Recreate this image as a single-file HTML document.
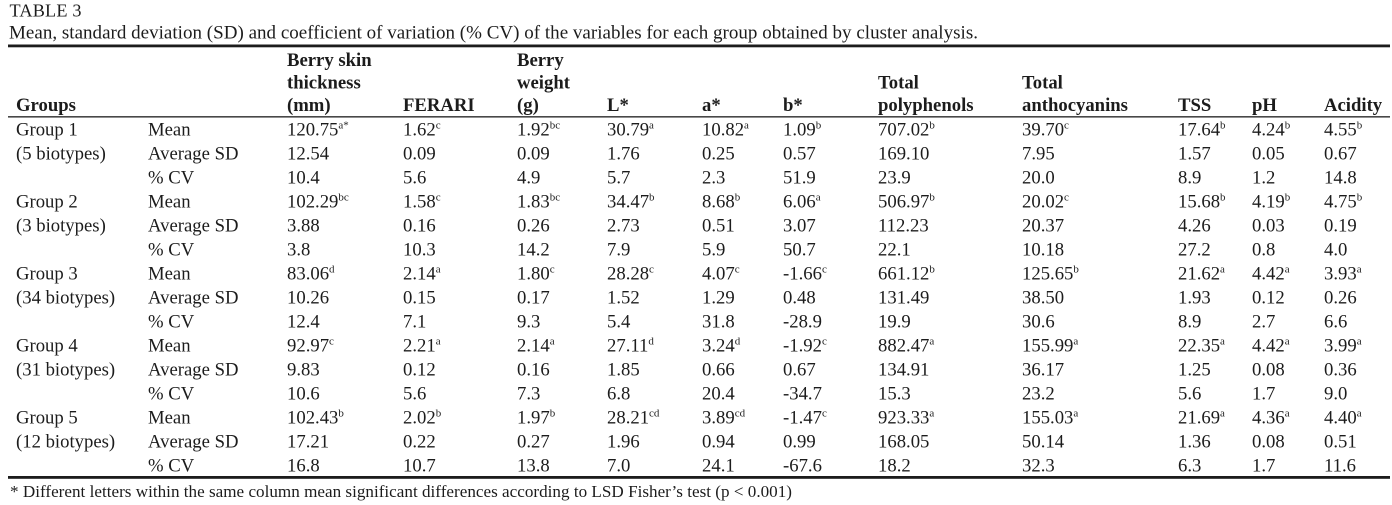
<!DOCTYPE html>
<html>
<head>
<meta charset="utf-8">
<style>
html,body{margin:0;padding:0;background:#fff;}
svg{display:block;}
text{font-family:"Liberation Serif","Times New Roman",serif;fill:#1c1c1c;}
.b{font-size:18.7px;}
.h{font-size:18.7px;font-weight:bold;}
.s{font-size:11px;}
</style>
</head>
<body>
<svg width="1392" height="505" viewBox="0 0 1392 505" xmlns="http://www.w3.org/2000/svg">
<rect width="1392" height="505" fill="#fff"/>
<text x="9.5" y="16.7" style="font-size:18.2px" textLength="72">TABLE 3</text>
<text x="9" y="38.3" style="font-size:19px" textLength="969">Mean, standard deviation (SD) and coefficient of variation (% CV) of the variables for each group obtained by cluster analysis.</text>
<rect x="8" y="44.5" width="1382" height="2.8" fill="#1c1c1c"/>
<!-- header -->
<g class="h">
<text x="287" y="66">Berry skin</text>
<text x="287" y="88.5">thickness</text>
<text x="287" y="111">(mm)</text>
<text x="16" y="111">Groups</text>
<text x="403" y="111">FERARI</text>
<text x="517" y="66">Berry</text>
<text x="517" y="88.5">weight</text>
<text x="517" y="111">(g)</text>
<text x="607" y="111">L*</text>
<text x="702" y="111">a*</text>
<text x="783" y="111">b*</text>
<text x="878" y="88.5">Total</text>
<text x="878" y="111">polyphenols</text>
<text x="1022" y="88.5">Total</text>
<text x="1022" y="111">anthocyanins</text>
<text x="1178" y="111">TSS</text>
<text x="1252" y="111">pH</text>
<text x="1324" y="111">Acidity</text>
</g>
<rect x="8" y="116.2" width="1382" height="1.3" fill="#1c1c1c"/>
<g class="b">
<!-- Group 1 -->
<text x="16" y="135.7">Group 1</text>
<text x="16" y="159.7">(5 biotypes)</text>
<text x="148" y="135.7">Mean</text>
<text x="148" y="159.7">Average SD</text>
<text x="148" y="183.7">% CV</text>
<text x="287" y="135.7">120.75<tspan class="s" dy="-7">a*</tspan></text>
<text x="403" y="135.7">1.62<tspan class="s" dy="-7">c</tspan></text>
<text x="517" y="135.7">1.92<tspan class="s" dy="-7">bc</tspan></text>
<text x="607" y="135.7">30.79<tspan class="s" dy="-7">a</tspan></text>
<text x="702" y="135.7">10.82<tspan class="s" dy="-7">a</tspan></text>
<text x="783" y="135.7">1.09<tspan class="s" dy="-7">b</tspan></text>
<text x="878" y="135.7">707.02<tspan class="s" dy="-7">b</tspan></text>
<text x="1022" y="135.7">39.70<tspan class="s" dy="-7">c</tspan></text>
<text x="1178" y="135.7">17.64<tspan class="s" dy="-7">b</tspan></text>
<text x="1252" y="135.7">4.24<tspan class="s" dy="-7">b</tspan></text>
<text x="1324" y="135.7">4.55<tspan class="s" dy="-7">b</tspan></text>
<text x="287" y="159.7">12.54</text><text x="403" y="159.7">0.09</text><text x="517" y="159.7">0.09</text><text x="607" y="159.7">1.76</text><text x="702" y="159.7">0.25</text><text x="783" y="159.7">0.57</text><text x="878" y="159.7">169.10</text><text x="1022" y="159.7">7.95</text><text x="1178" y="159.7">1.57</text><text x="1252" y="159.7">0.05</text><text x="1324" y="159.7">0.67</text>
<text x="287" y="183.7">10.4</text><text x="403" y="183.7">5.6</text><text x="517" y="183.7">4.9</text><text x="607" y="183.7">5.7</text><text x="702" y="183.7">2.3</text><text x="783" y="183.7">51.9</text><text x="878" y="183.7">23.9</text><text x="1022" y="183.7">20.0</text><text x="1178" y="183.7">8.9</text><text x="1252" y="183.7">1.2</text><text x="1324" y="183.7">14.8</text>
<!-- Group 2 -->
<text x="16" y="207.7">Group 2</text>
<text x="16" y="231.7">(3 biotypes)</text>
<text x="148" y="207.7">Mean</text>
<text x="148" y="231.7">Average SD</text>
<text x="148" y="255.7">% CV</text>
<text x="287" y="207.7">102.29<tspan class="s" dy="-7">bc</tspan></text>
<text x="403" y="207.7">1.58<tspan class="s" dy="-7">c</tspan></text>
<text x="517" y="207.7">1.83<tspan class="s" dy="-7">bc</tspan></text>
<text x="607" y="207.7">34.47<tspan class="s" dy="-7">b</tspan></text>
<text x="702" y="207.7">8.68<tspan class="s" dy="-7">b</tspan></text>
<text x="783" y="207.7">6.06<tspan class="s" dy="-7">a</tspan></text>
<text x="878" y="207.7">506.97<tspan class="s" dy="-7">b</tspan></text>
<text x="1022" y="207.7">20.02<tspan class="s" dy="-7">c</tspan></text>
<text x="1178" y="207.7">15.68<tspan class="s" dy="-7">b</tspan></text>
<text x="1252" y="207.7">4.19<tspan class="s" dy="-7">b</tspan></text>
<text x="1324" y="207.7">4.75<tspan class="s" dy="-7">b</tspan></text>
<text x="287" y="231.7">3.88</text><text x="403" y="231.7">0.16</text><text x="517" y="231.7">0.26</text><text x="607" y="231.7">2.73</text><text x="702" y="231.7">0.51</text><text x="783" y="231.7">3.07</text><text x="878" y="231.7">112.23</text><text x="1022" y="231.7">20.37</text><text x="1178" y="231.7">4.26</text><text x="1252" y="231.7">0.03</text><text x="1324" y="231.7">0.19</text>
<text x="287" y="255.7">3.8</text><text x="403" y="255.7">10.3</text><text x="517" y="255.7">14.2</text><text x="607" y="255.7">7.9</text><text x="702" y="255.7">5.9</text><text x="783" y="255.7">50.7</text><text x="878" y="255.7">22.1</text><text x="1022" y="255.7">10.18</text><text x="1178" y="255.7">27.2</text><text x="1252" y="255.7">0.8</text><text x="1324" y="255.7">4.0</text>
<!-- Group 3 -->
<text x="16" y="279.7">Group 3</text>
<text x="16" y="303.7">(34 biotypes)</text>
<text x="148" y="279.7">Mean</text>
<text x="148" y="303.7">Average SD</text>
<text x="148" y="327.7">% CV</text>
<text x="287" y="279.7">83.06<tspan class="s" dy="-7">d</tspan></text>
<text x="403" y="279.7">2.14<tspan class="s" dy="-7">a</tspan></text>
<text x="517" y="279.7">1.80<tspan class="s" dy="-7">c</tspan></text>
<text x="607" y="279.7">28.28<tspan class="s" dy="-7">c</tspan></text>
<text x="702" y="279.7">4.07<tspan class="s" dy="-7">c</tspan></text>
<text x="783" y="279.7">-1.66<tspan class="s" dy="-7">c</tspan></text>
<text x="878" y="279.7">661.12<tspan class="s" dy="-7">b</tspan></text>
<text x="1022" y="279.7">125.65<tspan class="s" dy="-7">b</tspan></text>
<text x="1178" y="279.7">21.62<tspan class="s" dy="-7">a</tspan></text>
<text x="1252" y="279.7">4.42<tspan class="s" dy="-7">a</tspan></text>
<text x="1324" y="279.7">3.93<tspan class="s" dy="-7">a</tspan></text>
<text x="287" y="303.7">10.26</text><text x="403" y="303.7">0.15</text><text x="517" y="303.7">0.17</text><text x="607" y="303.7">1.52</text><text x="702" y="303.7">1.29</text><text x="783" y="303.7">0.48</text><text x="878" y="303.7">131.49</text><text x="1022" y="303.7">38.50</text><text x="1178" y="303.7">1.93</text><text x="1252" y="303.7">0.12</text><text x="1324" y="303.7">0.26</text>
<text x="287" y="327.7">12.4</text><text x="403" y="327.7">7.1</text><text x="517" y="327.7">9.3</text><text x="607" y="327.7">5.4</text><text x="702" y="327.7">31.8</text><text x="783" y="327.7">-28.9</text><text x="878" y="327.7">19.9</text><text x="1022" y="327.7">30.6</text><text x="1178" y="327.7">8.9</text><text x="1252" y="327.7">2.7</text><text x="1324" y="327.7">6.6</text>
<!-- Group 4 -->
<text x="16" y="351.7">Group 4</text>
<text x="16" y="375.7">(31 biotypes)</text>
<text x="148" y="351.7">Mean</text>
<text x="148" y="375.7">Average SD</text>
<text x="148" y="399.7">% CV</text>
<text x="287" y="351.7">92.97<tspan class="s" dy="-7">c</tspan></text>
<text x="403" y="351.7">2.21<tspan class="s" dy="-7">a</tspan></text>
<text x="517" y="351.7">2.14<tspan class="s" dy="-7">a</tspan></text>
<text x="607" y="351.7">27.11<tspan class="s" dy="-7">d</tspan></text>
<text x="702" y="351.7">3.24<tspan class="s" dy="-7">d</tspan></text>
<text x="783" y="351.7">-1.92<tspan class="s" dy="-7">c</tspan></text>
<text x="878" y="351.7">882.47<tspan class="s" dy="-7">a</tspan></text>
<text x="1022" y="351.7">155.99<tspan class="s" dy="-7">a</tspan></text>
<text x="1178" y="351.7">22.35<tspan class="s" dy="-7">a</tspan></text>
<text x="1252" y="351.7">4.42<tspan class="s" dy="-7">a</tspan></text>
<text x="1324" y="351.7">3.99<tspan class="s" dy="-7">a</tspan></text>
<text x="287" y="375.7">9.83</text><text x="403" y="375.7">0.12</text><text x="517" y="375.7">0.16</text><text x="607" y="375.7">1.85</text><text x="702" y="375.7">0.66</text><text x="783" y="375.7">0.67</text><text x="878" y="375.7">134.91</text><text x="1022" y="375.7">36.17</text><text x="1178" y="375.7">1.25</text><text x="1252" y="375.7">0.08</text><text x="1324" y="375.7">0.36</text>
<text x="287" y="399.7">10.6</text><text x="403" y="399.7">5.6</text><text x="517" y="399.7">7.3</text><text x="607" y="399.7">6.8</text><text x="702" y="399.7">20.4</text><text x="783" y="399.7">-34.7</text><text x="878" y="399.7">15.3</text><text x="1022" y="399.7">23.2</text><text x="1178" y="399.7">5.6</text><text x="1252" y="399.7">1.7</text><text x="1324" y="399.7">9.0</text>
<!-- Group 5 -->
<text x="16" y="423.7">Group 5</text>
<text x="16" y="447.7">(12 biotypes)</text>
<text x="148" y="423.7">Mean</text>
<text x="148" y="447.7">Average SD</text>
<text x="148" y="471.7">% CV</text>
<text x="287" y="423.7">102.43<tspan class="s" dy="-7">b</tspan></text>
<text x="403" y="423.7">2.02<tspan class="s" dy="-7">b</tspan></text>
<text x="517" y="423.7">1.97<tspan class="s" dy="-7">b</tspan></text>
<text x="607" y="423.7">28.21<tspan class="s" dy="-7">cd</tspan></text>
<text x="702" y="423.7">3.89<tspan class="s" dy="-7">cd</tspan></text>
<text x="783" y="423.7">-1.47<tspan class="s" dy="-7">c</tspan></text>
<text x="878" y="423.7">923.33<tspan class="s" dy="-7">a</tspan></text>
<text x="1022" y="423.7">155.03<tspan class="s" dy="-7">a</tspan></text>
<text x="1178" y="423.7">21.69<tspan class="s" dy="-7">a</tspan></text>
<text x="1252" y="423.7">4.36<tspan class="s" dy="-7">a</tspan></text>
<text x="1324" y="423.7">4.40<tspan class="s" dy="-7">a</tspan></text>
<text x="287" y="447.7">17.21</text><text x="403" y="447.7">0.22</text><text x="517" y="447.7">0.27</text><text x="607" y="447.7">1.96</text><text x="702" y="447.7">0.94</text><text x="783" y="447.7">0.99</text><text x="878" y="447.7">168.05</text><text x="1022" y="447.7">50.14</text><text x="1178" y="447.7">1.36</text><text x="1252" y="447.7">0.08</text><text x="1324" y="447.7">0.51</text>
<text x="287" y="471.7">16.8</text><text x="403" y="471.7">10.7</text><text x="517" y="471.7">13.8</text><text x="607" y="471.7">7.0</text><text x="702" y="471.7">24.1</text><text x="783" y="471.7">-67.6</text><text x="878" y="471.7">18.2</text><text x="1022" y="471.7">32.3</text><text x="1178" y="471.7">6.3</text><text x="1252" y="471.7">1.7</text><text x="1324" y="471.7">11.6</text>
</g>
<rect x="8" y="476" width="1382" height="2.8" fill="#1c1c1c"/>
<text x="10" y="497" style="font-size:17.1px" textLength="782">* Different letters within the same column mean significant differences according to LSD Fisher’s test (p &lt; 0.001)</text>
</svg>
</body>
</html>
